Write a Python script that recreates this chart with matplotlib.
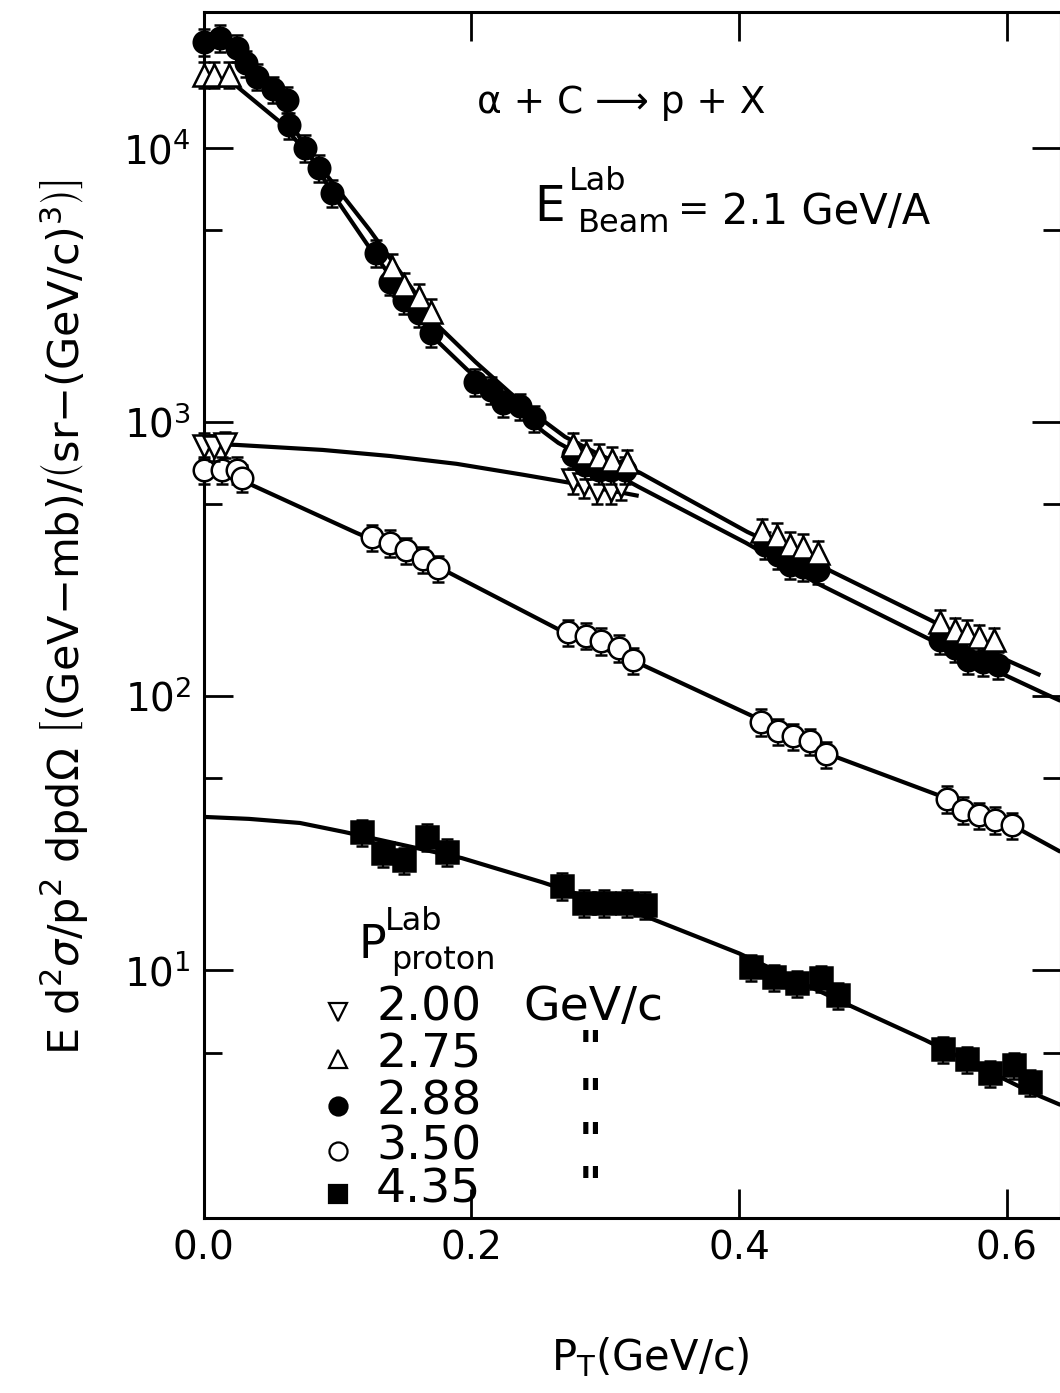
import matplotlib
matplotlib.use("Agg")
import matplotlib.pyplot as plt
from matplotlib.lines import Line2D
from matplotlib.ticker import LogLocator, NullFormatter, FixedLocator, FormatStrFormatter

plt.rcParams['font.family'] = ['DejaVu Sans']
plt.rcParams['mathtext.fontset'] = 'dejavusans'

# ---------------- data ----------------
# P_lab = 2.00 GeV/c  (open down-triangles)
pt_200 = [0.0, 0.008, 0.016, 0.276, 0.284, 0.294, 0.304, 0.312]
y_200 = [820, 810, 830, 614, 594, 565, 565, 584]
# P_lab = 2.75 GeV/c  (open up-triangles)
pt_275 = [0.0, 0.008, 0.019, 0.141, 0.150, 0.161, 0.170,
          0.276, 0.286, 0.295, 0.305, 0.316,
          0.417, 0.428, 0.438, 0.448, 0.459,
          0.550, 0.561, 0.570, 0.579, 0.590]
y_275 = [18500, 18500, 18500, 3680, 3160, 2860, 2520,
         824, 771, 745, 727, 714,
         400, 384, 356, 350, 332,
         186, 174, 170, 164, 160]
# P_lab = 2.88 GeV/c  (filled circles)
pt_288 = [0.0, 0.012, 0.025, 0.032, 0.040, 0.052, 0.062, 0.064, 0.076, 0.086, 0.096,
          0.129, 0.139, 0.150, 0.161, 0.170, 0.203, 0.215, 0.224, 0.236, 0.247,
          0.276, 0.285, 0.295, 0.304, 0.315,
          0.419, 0.429, 0.438, 0.448, 0.459,
          0.550, 0.561, 0.571, 0.582, 0.593]
y_288 = [24400, 25200, 23200, 20400, 18200, 16400, 15000, 12100, 10000, 8450, 6850,
         4140, 3250, 2790, 2500, 2110, 1400, 1310, 1170, 1140, 1030,
         758, 697, 668, 668, 668,
         356, 327, 301, 296, 288,
         160, 150, 135, 133, 130]
# P_lab = 3.50 GeV/c  (open circles)
pt_350 = [0.0, 0.014, 0.025, 0.029,
          0.126, 0.139, 0.151, 0.164, 0.175,
          0.272, 0.286, 0.297, 0.310, 0.321,
          0.416, 0.429, 0.440, 0.453, 0.465,
          0.555, 0.567, 0.579, 0.591, 0.604]
y_350 = [668, 668, 668, 625,
         380, 362, 341, 316, 293,
         171, 166, 159, 150, 135,
         80.4, 74.5, 71.4, 68.5, 61.4,
         42.1, 38.4, 36.8, 35.3, 33.8]
# P_lab = 4.35 GeV/c  (filled squares)
pt_435 = [0.118, 0.134, 0.150, 0.167, 0.182,
          0.268, 0.284, 0.299, 0.316, 0.330,
          0.409, 0.426, 0.443, 0.461, 0.474,
          0.552, 0.570, 0.587, 0.605, 0.617]
y_435 = [31.9, 26.7, 25.2, 30.6, 27.0,
         20.3, 17.6, 17.6, 17.6, 17.3,
         10.25, 9.43, 8.97, 9.35, 8.11,
         5.15, 4.73, 4.21, 4.50, 3.90]
ERR_FRAC = 0.11   # typical relative error bar

# fitted curves
cx_200 = [0.0, 0.025, 0.089, 0.139, 0.189, 0.239, 0.274, 0.325]
cy_200 = [830, 824, 790, 751, 703, 641, 599, 537]
cx_275 = [0.019, 0.057, 0.093, 0.124, 0.150, 0.176, 0.203, 0.229, 0.255, 0.270,
          0.296, 0.326, 0.406, 0.467, 0.543, 0.600, 0.625]
cy_275 = [17700, 12440, 7840, 5020, 3354, 2222, 1656, 1276, 1000, 882,
          758, 652, 397, 288, 189, 135, 119]
cx_288 = [0.064, 0.096, 0.122, 0.176, 0.197, 0.254, 0.265, 0.325, 0.405, 0.458,
          0.540, 0.602, 0.630, 0.640]
cy_288 = [12650, 6850, 4462, 1943, 1549, 919, 838, 579, 362, 258,
          163, 117, 101, 96]
cx_350 = [0.025, 0.031, 0.114, 0.182, 0.266, 0.326, 0.408, 0.468, 0.554, 0.606, 0.640]
cy_350 = [640, 604, 394, 284, 174, 131, 85.3, 61.0, 42.5, 33.3, 27.0]
cx_435 = [0.0, 0.034, 0.072, 0.105, 0.193, 0.253, 0.333, 0.400, 0.485, 0.539, 0.619, 0.640]
cy_435 = [36.2, 35.6, 34.4, 31.9, 25.6, 20.9, 15.5, 11.5, 7.33, 5.55, 3.56, 3.22]

x_ticks = [0.0, 0.2, 0.4, 0.6]
legend_values = ['2.00', '2.75', '2.88', '3.50', '4.35']

# ---------------- figure ----------------
W, H = 1060, 1393
fig = plt.figure(figsize=(W / 100, H / 100), dpi=100)
ax = fig.add_axes([203.5 / W, 1 - 1218 / H, 857 / W, 1206 / H])
ax.set_yscale('log')

LW = 3.0
for cx, cy in [(cx_200, cy_200), (cx_275, cy_275), (cx_288, cy_288),
               (cx_350, cy_350), (cx_435, cy_435)]:
    ax.plot(cx, cy, color='black', lw=LW, zorder=2, solid_capstyle='butt')

series = [
    (pt_435, y_435, 's', 'black', 16),
    (pt_350, y_350, 'o', 'white', 15.5),
    (pt_200, y_200, 'v', 'white', 16.5),
    (pt_288, y_288, 'o', 'black', 15.5),
    (pt_275, y_275, '^', 'white', 16.5),
]
for i, (xs, ys, mk, fc, ms) in enumerate(series):
    err = [v * ERR_FRAC for v in ys]
    ax.errorbar(xs, ys, yerr=err, fmt='none', ecolor='black', elinewidth=1.6,
                capsize=4.5, capthick=1.8, zorder=3 + 2 * i, clip_on=False)
    ax.plot(xs, ys, linestyle='none', marker=mk, markersize=ms,
            markerfacecolor=fc, markeredgecolor='black', markeredgewidth=1.8,
            zorder=4 + 2 * i, clip_on=False)

ax.set_xlim(0, 0.64)
ax.set_ylim(1.245, 31300)

ax.xaxis.set_major_locator(FixedLocator(x_ticks))
ax.xaxis.set_major_formatter(FormatStrFormatter('%.1f'))
ax.yaxis.set_major_locator(LogLocator(base=10, numticks=10))
ax.yaxis.set_minor_locator(LogLocator(base=10, subs=[5.0], numticks=10))
ax.yaxis.set_minor_formatter(NullFormatter())

ax.tick_params(which='both', direction='in', top=True, right=True, width=2,
               colors='black')
ax.tick_params(axis='x', labelsize=28, pad=8)
ax.tick_params(axis='y', labelsize=28, pad=9)
ax.tick_params(which='major', length=21)
ax.tick_params(which='minor', length=13)
for s in ax.spines.values():
    s.set_linewidth(2.2)

def fx(px):
    return px / W

def fy(py):
    return 1 - py / H

# axis labels
fig.text(fx(650), fy(1357), r'P$_{\mathrm{T}}$(GeV/c)', fontsize=30,
         ha='center', va='center')
fig.text(fx(64), fy(617),
         r'E d$^{2}\sigma$/p$^{2}$ dpd$\Omega$ '
         r'$\left[\mathrm{(GeV{-}mb)}/\left(\mathrm{sr{-}(GeV/c)^{3}}\right)\right]$',
         fontsize=31, rotation=90, ha='center', va='center')

# annotations
fig.text(fx(621), fy(103), 'α + C ⟶ p + X', fontsize=27, ha='center', va='center')
fig.text(fx(550), fy(207), 'E', fontsize=35, ha='center', va='center')
fig.text(fx(598), fy(181), 'Lab', fontsize=23, ha='center', va='center')
fig.text(fx(624), fy(224), 'Beam', fontsize=23, ha='center', va='center')
fig.text(fx(694), fy(210), '=', fontsize=27, ha='center', va='center')
fig.text(fx(722), fy(212), '2.1 GeV/A', fontsize=30, ha='left', va='center')

# legend block
fig.text(fx(372), fy(945), 'P', fontsize=33, ha='center', va='center')
fig.text(fx(414), fy(921), 'Lab', fontsize=23, ha='center', va='center')
fig.text(fx(443), fy(960), 'proton', fontsize=23, ha='center', va='center')
row_y = [1008, 1055, 1102, 1147, 1190]
leg_marks = [('v', 'white'), ('^', 'white'), ('o', 'black'), ('o', 'white'), ('s', 'black')]
for val, (mk, fc), yy in zip(legend_values, leg_marks, row_y):
    fig.add_artist(Line2D([fx(338)], [fy(yy + 4)], transform=fig.transFigure,
                          marker=mk, markersize=13, markerfacecolor=fc,
                          markeredgecolor='black', markeredgewidth=1.6,
                          linestyle='none'))
    fig.text(fx(376), fy(yy), val, fontsize=34, ha='left', va='center')
fig.text(fx(523), fy(row_y[0]), 'GeV/c', fontsize=34, ha='left', va='center')
for yy in row_y[1:]:
    fig.text(fx(590), fy(yy - 4), '"', fontsize=32, ha='center', va='center',
             fontweight='bold')

fig.savefig('out.png', dpi=100, facecolor='white')
